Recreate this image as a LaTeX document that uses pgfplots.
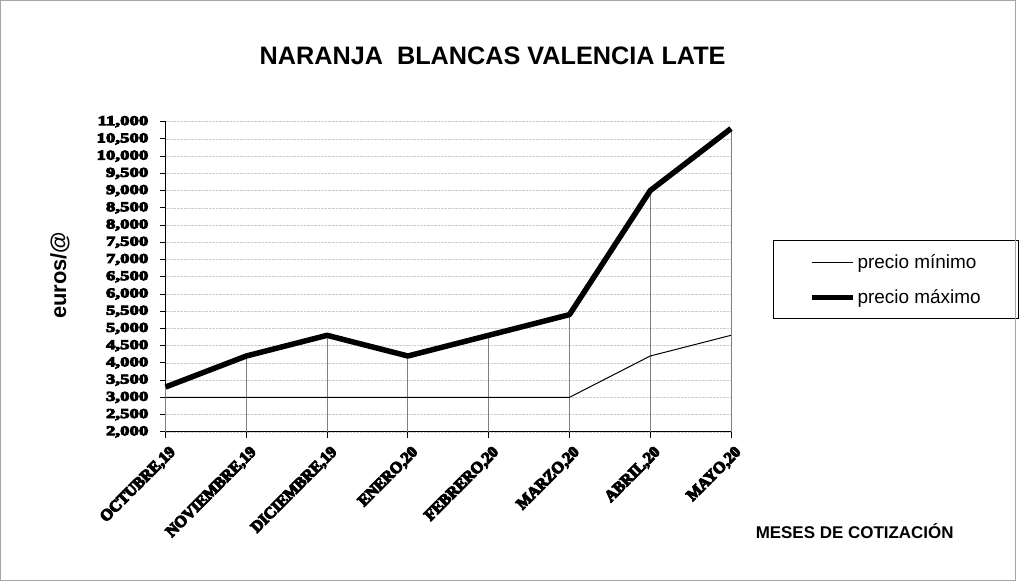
\documentclass[border=0pt]{standalone}
\usepackage{fontspec}
\setmainfont{Liberation Sans}
\newfontfamily\ytickfont{Liberation Serif}[UprightFont={* Bold}, FakeStretch=1.4, FakeBold=7]
\newfontfamily\xtickfont{Liberation Serif}[UprightFont={* Bold}, FakeBold=7]
\usepackage{pgfplots}
\pgfplotsset{compat=1.18}

\pgfplotstableread{
x  minimo  maximo
0  3000    3300
1  3000    4200
2  3000    4800
3  3000    4200
4  3000    4800
5  3000    5400
6  4200    9000
7  4800   10800
}\precios

\begin{document}
\begin{tikzpicture}
\begin{axis}[
    width=567pt, height=311pt, scale only axis,
    xmin=0, xmax=7, ymin=2000, ymax=11000,
    axis lines*=left,
    axis line style={black, line width=1pt},
    xtick={0,...,7},
    xticklabels={{OCTUBRE,19},{NOVIEMBRE,19},{DICIEMBRE,19},{ENERO,20},{FEBRERO,20},{MARZO,20},{ABRIL,20},{MAYO,20}},
    x tick label style={rotate=45, anchor=east, font=\fontsize{16}{16}\xtickfont, inner sep=1pt, yshift=-14pt, xshift=-2pt},
    ytick={2000,2500,...,11000},
    scaled y ticks=false,
    y tick label style={font=\fontsize{13.5}{13.5}\ytickfont, inner xsep=2pt, xshift=-9pt},
    /pgf/number format/.cd, fixed, precision=0, 1000 sep={,}, assume math mode=true,
    /pgfplots/.cd,
    tick align=outside, major tick length=6pt,
    tick style={black, line width=0.8pt},
    ymajorgrids, grid style={densely dotted, gray!40, line width=0.6pt},
    clip=false,
    legend style={at={(1.074,0.617)}, anchor=north west, draw=black, line width=0.8pt,
        font=\fontsize{19}{21}\selectfont, inner xsep=36pt, inner ysep=11.5pt,
        row sep=16pt, cells={anchor=west}},
    legend image code/.code={\draw[#1] (0pt,0pt) -- (41pt,0pt);},
]
\coordinate (ll) at (rel axis cs:0,0);
\addplot[ycomb, gray, line width=0.8pt, forget plot] table[x=x, y=maximo] {\precios};
\addplot[black, line width=1pt] table[x=x, y=minimo] {\precios};
\addlegendentry{precio mínimo}
\addplot[black, line width=5.5pt, line join=round] table[x=x, y=maximo] {\precios};
\addlegendentry{precio máximo}
\end{axis}
\begin{scope}[shift={(ll)}, x=1pt, y=1pt, shift={(-166,-150)}]
\draw[gray!70, line width=1pt] (0.5,0.5) rectangle (1018.5,582.5);
\node[font=\fontsize{25.3}{28}\selectfont\bfseries] at (494,527) {NARANJA\ \ BLANCAS VALENCIA LATE};
\node[font=\fontsize{22}{24}\selectfont\bfseries, rotate=90] at (60,307) {euros/@};
\node[font=\fontsize{17}{19}\selectfont\bfseries] at (857,50) {MESES DE COTIZACIÓN};
\end{scope}
\end{tikzpicture}
\end{document}
